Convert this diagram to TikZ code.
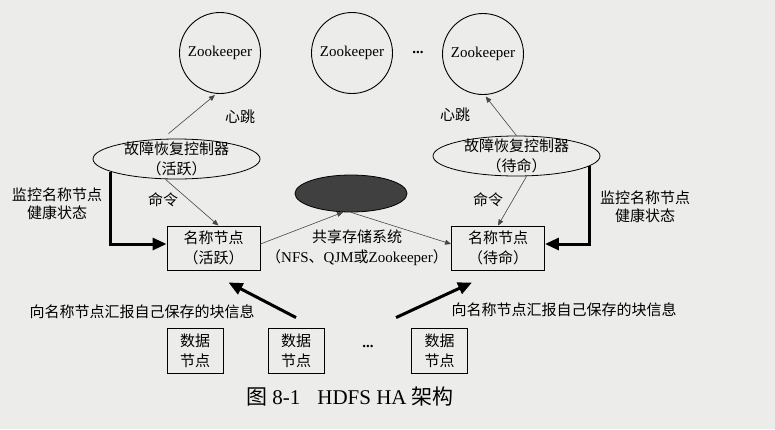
\documentclass[tikz,border=0pt]{standalone}
\usepackage{fontspec}
\setmainfont{Liberation Serif}
\newfontfamily\cjk{Noto Sans CJK SC}
\usepackage{tikz}
\usetikzlibrary{positioning,arrows.meta,shapes.geometric,calc}
\usepackage{xcolor}
\definecolor{Paper}{RGB}{236,236,234}
\definecolor{LineGray}{RGB}{70,70,70}
\newcommand{\cjkfont}{\cjk\fontsize{15}{20}\selectfont}
\newcommand{\lat}[1]{{\rmfamily #1}}

\begin{document}
\begin{tikzpicture}[
    x=1pt, y=-1pt,
    zk/.style={circle, draw, line width=0.9pt, minimum size=81pt, inner sep=0pt,
        font=\fontsize{15}{17}\selectfont},
    ctrl/.style={ellipse, draw, line width=0.8pt, minimum width=167pt, minimum height=40pt,
        inner xsep=0pt, inner ysep=-6pt, align=center, font=\cjkfont},
    store/.style={ellipse, draw, line width=0.8pt, fill=black!75, minimum width=112pt,
        minimum height=37pt},
    namebox/.style={rectangle, draw, line width=0.9pt, minimum width=93pt, minimum height=44pt,
        align=center, font=\cjkfont},
    databox/.style={rectangle, draw, line width=0.9pt, minimum width=56pt, minimum height=45pt,
        inner sep=0pt, align=center, font=\cjkfont},
    lbl/.style={align=center, font=\cjkfont},
    thinarr/.style={draw=LineGray, line width=0.6pt, -{Triangle[length=6pt,width=5pt]}},
    thickarr/.style={line width=3pt, -{Triangle[length=14pt,width=12pt]}}
]
\fill[Paper] (0,0) rectangle (775,429);
\useasboundingbox (0,0) rectangle (775,429);

% zookeeper ensemble
\node[zk] (zk1) at (220,53) {Zookeeper};
\node[zk] (zk2) at (352,53) {Zookeeper};
\node[font=\bfseries\fontsize{15}{17}\selectfont] (zkdots) at (418,52) {...};
\node[zk] (zk3) at (483,54) {Zookeeper};

% failover controllers
\node[ctrl] (fcA) at (176.5,159) {故障恢复控制器\\（活跃）};
\node[ctrl] (fcS) at (516.5,156) {故障恢复控制器\\（待命）};

% shared storage
\node[store] (store) at (351,193.5) {};
\node[lbl] (storetxt) at (357,248) {共享存储系统\\（\lat{NFS}、\lat{QJM}或\lat{Zookeeper}）};

% name nodes
\node[namebox] (nnA) at (213.5,248) {名称节点\\（活跃）};
\node[namebox] (nnS) at (498,248) {名称节点\\（待命）};

% data nodes
\node[databox] (dn1) at (195,350.5) {数据\\节点};
\node[databox] (dn2) at (296,350.5) {数据\\节点};
\node[font=\bfseries\fontsize{15}{17}\selectfont] (dndots) at (368,346) {...};
\node[databox] (dn3) at (439.5,350.5) {数据\\节点};

% labels
\node[lbl] (hbA) at (240,117) {心跳};
\node[lbl] (hbS) at (455,115) {心跳};
\node[lbl] (cmdA) at (163,200) {命令};
\node[lbl] (cmdS) at (488,200) {命令};
\node[lbl, font=\cjk\fontsize{15}{18}\selectfont] (monA) at (57,204) {监控名称节点\\健康状态};
\node[lbl, font=\cjk\fontsize{15}{18}\selectfont] (monS) at (645,207) {监控名称节点\\健康状态};
\node[lbl] (repA) at (142,312) {向名称节点汇报自己保存的块信息};
\node[lbl] (repS) at (564,310) {向名称节点汇报自己保存的块信息};

% caption
\node[font=\fontsize{21}{24}\selectfont] (caption) at (350,397)
    {{\cjk 图} 8-1\hspace{17pt}HDFS HA {\cjk 架构}};

% heartbeats and commands
\draw[thinarr, shorten >=2pt] ([xshift=-8pt,yshift=5pt]fcA.north) -- (zk1.265);
\draw[thinarr, shorten >=2pt] (fcS.north) -- (zk3.272);
\draw[thinarr] ([xshift=-11pt]fcA.south) -- ([xshift=5pt]nnA.north);
\draw[thinarr] ([xshift=10pt]fcS.south) -- (nnS.north);

% edit log to shared storage
\draw[thinarr] ([yshift=4pt]nnA.east) -- (store.247);
\draw[thinarr] (store.south) -- ([yshift=4pt]nnS.west);

% health monitoring
\draw[thickarr] (fcA.191) |- ([yshift=4pt]nnA.west);
\draw[thickarr] (fcS.-8) |- ([yshift=4pt]nnS.east);

% block reports
\draw[thickarr] ([yshift=10pt]dn2.north) -- ([xshift=15pt,yshift=-12pt]nnA.south);
\draw[thickarr] ([xshift=-15pt,yshift=10pt]dn3.north west) -- ([xshift=-26pt,yshift=-12pt]nnS.south);
\end{tikzpicture}
\end{document}
